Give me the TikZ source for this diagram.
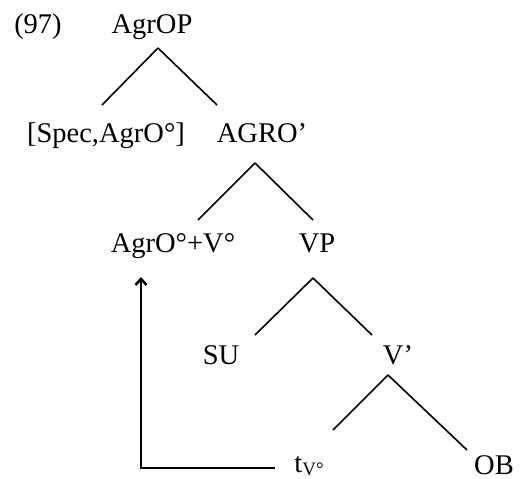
\documentclass[tikz,border=0pt]{standalone}
\usepackage{fontspec}
\setmainfont{Liberation Serif}
\usetikzlibrary{arrows.meta}

\begin{document}
\begin{tikzpicture}[
        x=1pt, y=-1pt,
        cat/.style={anchor=base, inner sep=0pt, font=\fontsize{28.5}{32}\selectfont},
        branch/.style={line width=1.6pt},
        move/.style={line width=2.6pt, -{Straight Barb[length=6pt,width=11pt]}}
    ]
        \useasboundingbox (0,0) rectangle (530,479);

        \node[cat] (EX) at (38,33) {(97)};
        \node[cat] (AgrOP) at (152,33) {AgrOP};
        \node[cat] (SPEC) at (106,142) {[Spec,AgrO°]};
        \node[cat] (AGROBAR) at (262,142) {AGRO’};
        \node[cat] (AGRV) at (173,252) {AgrO°+V°};
        \node[cat] (VP) at (317,252) {VP};
        \node[cat] (SU) at (221,364) {SU};
        \node[cat] (VBAR) at (398,364) {V’};
        \node[cat] (TRACE) at (309,472) {t{\fontsize{19}{19}\selectfont\raisebox{-3pt}{V°}}};
        \node[cat] (OB) at (494,474) {OB};

        \draw[branch] ([shift={(6,15)}]AgrOP.base) -- ([shift={(-4,-37)}]SPEC.base);
        \draw[branch] ([shift={(6,15)}]AgrOP.base) -- ([shift={(-45,-37)}]AGROBAR.base);
        \draw[branch] ([shift={(-7,21)}]AGROBAR.base) -- ([shift={(25,-32)}]AGRV.base);
        \draw[branch] ([shift={(-7,21)}]AGROBAR.base) -- ([shift={(-4,-32)}]VP.base);
        \draw[branch] ([shift={(-4,26)}]VP.base) -- ([shift={(34,-29)}]SU.base);
        \draw[branch] ([shift={(-4,26)}]VP.base) -- ([shift={(-26,-29)}]VBAR.base);
        \draw[branch] ([shift={(-10,11)}]VBAR.base) -- ([shift={(24,-42)}]TRACE.base);
        \draw[branch] ([shift={(-10,11)}]VBAR.base) -- ([shift={(-27,-24)}]OB.base);

        \draw[move] ([shift={(-34,-4)}]TRACE.base) -| ([shift={(-32,25)}]AGRV.base);
    \end{tikzpicture}
\end{document}
